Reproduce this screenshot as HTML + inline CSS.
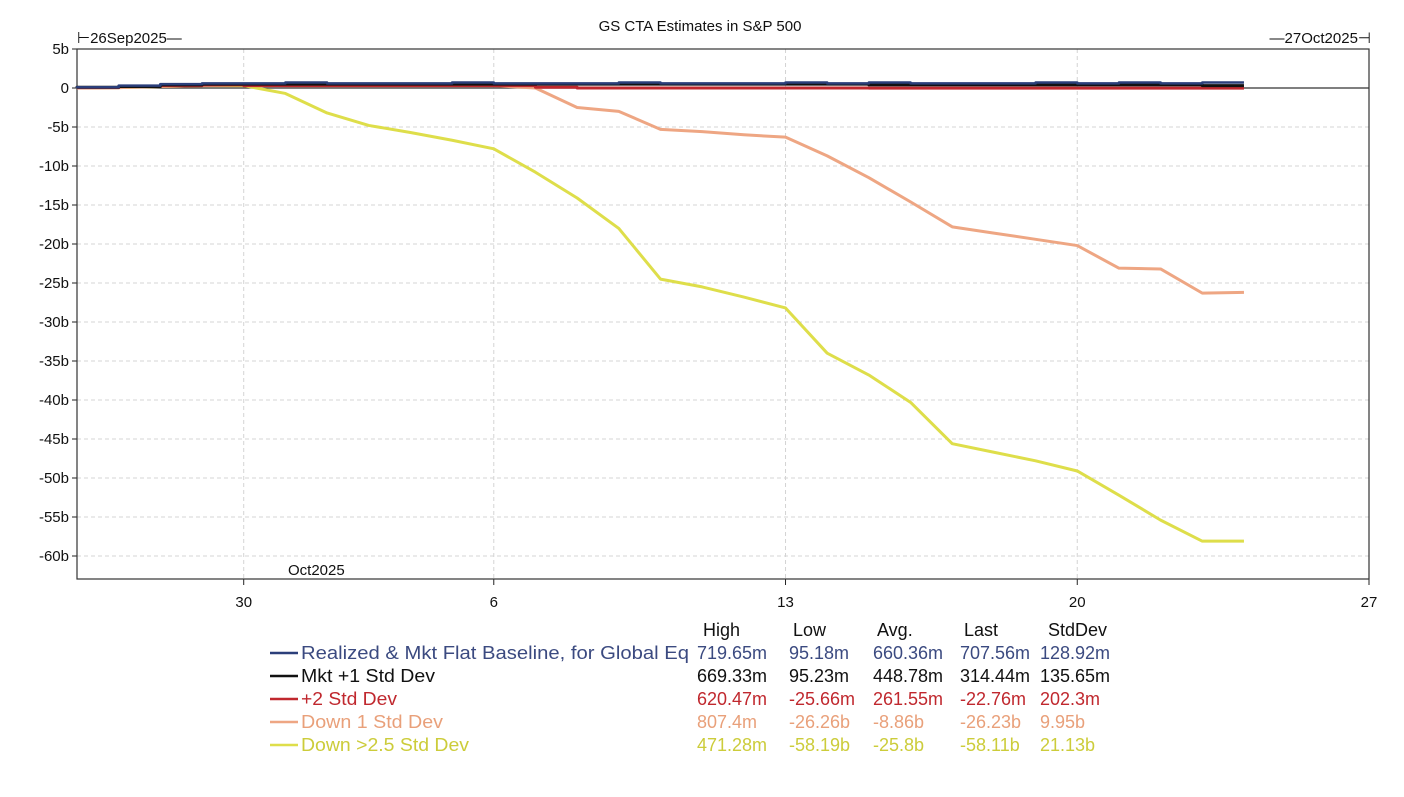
<!DOCTYPE html>
<html><head><meta charset="utf-8"><style>
body{margin:0;background:#fff;font-family:"Liberation Sans",sans-serif}
svg text{font-family:"Liberation Sans",sans-serif}
</style></head><body>
<svg id="c" width="1404" height="792"></svg>
<script>
const days=[0,1,2,3,4,5,6,7,8,9,10,11,12,13,14,15,16,17,18,19,20,21,22,23,24,25,26,27,28];
const baseline=[0,0.1,0.3,0.5,0.6,0.6,0.7,0.6,0.6,0.6,0.7,0.6,0.6,0.6,0.7,0.6,0.6,0.6,0.7,0.6,0.7,0.6,0.6,0.6,0.7,0.6,0.7,0.6,0.7];
const plus1=[0,0.1,0.2,0.4,0.5,0.5,0.5,0.5,0.5,0.5,0.5,0.5,0.5,0.5,0.5,0.5,0.5,0.5,0.5,0.5,0.4,0.4,0.4,0.4,0.4,0.4,0.4,0.4,0.3];
const plus2=[0,0.05,0.2,0.3,0.4,0.3,0.3,0.3,0.3,0.3,0.3,0.3,0.1,0,0,0,0,0,0,0,-0.02,-0.02,-0.02,-0.02,-0.02,-0.02,-0.02,-0.02,-0.02];
const down1=[0,0.05,0.2,0.3,0.4,0.3,0.3,0.3,0.3,0.3,0.3,0,-2.5,-3.0,-5.3,-5.6,-6.0,-6.3,-8.7,-11.5,-14.6,-17.8,-18.6,-19.4,-20.2,-23.1,-23.2,-26.3,-26.2];
const down25=[0,0.05,0.2,0.3,0.3,-0.7,-3.2,-4.8,-5.7,-6.7,-7.8,-10.8,-14.1,-18,-24.5,-25.5,-26.8,-28.2,-34,-36.8,-40.3,-45.6,-46.7,-47.8,-49.1,-52.2,-55.4,-58.1,-58.1];
const yTicks=[5,0,-5,-10,-15,-20,-25,-30,-35,-40,-45,-50,-55,-60];
const xTickDays=[4,10,17,24,31];
const xTickLabels=["30","6","13","20","27"];
const L=77,R=1369,T=49,B=579;
const X=d=>L+d*(R-L)/31;
const Y=v=>88-v*7.8;
const svg=document.getElementById('c');const NS="http://www.w3.org/2000/svg";
function mk(t,a,p){const e=document.createElementNS(NS,t);for(const k in a)e.setAttribute(k,a[k]);(p||svg).appendChild(e);return e;}
yTicks.forEach(v=>{if(v!==0&&v!==5){const l=mk('line',{x1:L,x2:R,y1:Y(v),y2:Y(v),stroke:'#d4d4d4','stroke-dasharray':'4,3'});}
const t=mk('text',{x:L-8,y:Y(v)+5,'text-anchor':'end','font-size':15,fill:'#111'});t.textContent=v+(v===0?'':'b');
mk('line',{x1:L-5,x2:L,y1:Y(v),y2:Y(v),stroke:'#222'});});
xTickDays.forEach((d,i)=>{if(d<31){const l=mk('line',{x1:X(d),x2:X(d),y1:T,y2:B,stroke:'#d4d4d4','stroke-dasharray':'4,3'});}
mk('line',{x1:X(d),x2:X(d),y1:B,y2:B+6,stroke:'#222'});
const t=mk('text',{x:X(d),y:B+28,'text-anchor':'middle','font-size':15,fill:'#111'});t.textContent=xTickLabels[i];});
const fr=mk('rect',{x:L,y:T,width:R-L,height:B-T,fill:'none',stroke:'#333','stroke-width':1.2});
mk('line',{x1:L,x2:R,y1:Y(0),y2:Y(0),stroke:'#333','stroke-width':1.2});
function series(vals,color,w,step,name){let d='';vals.forEach((v,i)=>{const x=X(days[i]),y=Y(v);if(i===0)d+='M'+x+','+y;else if(step)d+='V'+y+'H'+x;else d+='L'+x+','+y;});
const p=mk('path',{d:d,fill:'none',stroke:color,'stroke-width':w,'stroke-linejoin':'round'});}
series(down25,'#dede4a',3,false,'series-down-2-5-std');
series(down1,'#eea683',3,false,'series-down-1-std');
series(plus2,'#c0282e',3,true,'series-plus-2-std');
series(plus1,'#111',3,true,'series-mkt-plus-1-std');
series(baseline,'#2b3f7a',2.5,true,'series-baseline');
function txt(x,y,s,opt,name){const t=mk('text',Object.assign({x:x,y:y,'font-size':18,fill:'#111'},opt||{}));t.textContent=s;return t;}
txt(700,31,'GS CTA Estimates in S&P 500',{'text-anchor':'middle','font-size':15},'chart-title');
txt(77,43,'⊢26Sep2025—',{'font-size':15},'start-date-label');
txt(1371,43,'—27Oct2025⊣',{'font-size':15,'text-anchor':'end'},'end-date-label');
txt(288,575,'Oct2025',{'font-size':15},'month-label');
const cols=[697,789,873,960,1040];
['High','Low','Avg.','Last','StdDev'].forEach((h,i)=>txt(cols[i]+(i==0?6:i==4?8:4),636,h,{},'legend-header'));
const rows=[['Realized & Mkt Flat Baseline, for Global Eq','#3b4a80','#2b3f7a',['719.65m','95.18m','660.36m','707.56m','128.92m'],388],
['Mkt +1 Std Dev','#111','#111',['669.33m','95.23m','448.78m','314.44m','135.65m'],134],
['+2 Std Dev','#c0282e','#c0282e',['620.47m','-25.66m','261.55m','-22.76m','202.3m'],96],
['Down 1 Std Dev','#e9a07a','#eea683',['807.4m','-26.26b','-8.86b','-26.23b','9.95b'],142],
['Down >2.5 Std Dev','#cccc3a','#dede4a',['471.28m','-58.19b','-25.8b','-58.11b','21.13b'],168]];
rows.forEach((r,j)=>{const y=659+j*23;
const l=mk('line',{x1:270,x2:298,y1:y-6,y2:y-6,stroke:r[2],'stroke-width':2.5});
txt(301,y,r[0],{fill:r[1],textLength:r[4],lengthAdjust:'spacingAndGlyphs'},'legend-label');
r[3].forEach((v,i)=>txt(cols[i],y,v,{fill:r[1]},'legend-value'));});
</script>
</body></html>
